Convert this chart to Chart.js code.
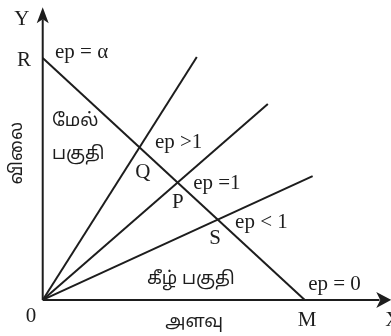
<!DOCTYPE html>
<html>
<head>
<meta charset="utf-8">
<script src="https://cdn.jsdelivr.net/npm/chart.js@4"></script>
<style>
  body { margin: 0; background: #fff; }
  #wrap { width: 391px; height: 336px; }
</style>
</head>
<body>
<div id="wrap"><canvas id="myChart"></canvas></div>
<script>
// demand line R -> M
const demandX = [0, 10];
const demandY = [10, 0];

// rays from the origin (ep > 1, ep = 1, ep < 1)
const rayNames = ['ep >1', 'ep =1', 'ep < 1'];
const rayEndX = [5.88, 8.59, 10.3];
const rayEndY = [10.04, 8.10, 5.12];

// axis lengths
const axisEndX = 13.3;
const axisEndY = 12.1;

const ink = '#1d1d1d';
const serif = '"Liberation Serif", "DejaVu Serif", serif';
const tamil = '"Noto Sans Tamil", "Lohit Tamil", "Noto Sans", sans-serif';
const lat = '21px ' + serif;
const tam = '18px ' + tamil;

// text labels: [text, x, y, align, font, rotate]
let labels = [
    ['Y', -0.8, 11.6, 'center', lat],
    ['R', -0.71, 9.92, 'center', lat],
    ['ep = \u03b1', 0.47, 10.25, 'left', lat],
    ['மேல்', 0.35, 7.36, 'left', tam],
    ['பகுதி', 0.35, 5.99, 'left', tam],
    ['விலை', -0.94, 6.07, 'center', tam, true],
    [rayNames[0], 4.28, 6.49, 'left', lat],
    ['Q', 3.82, 5.29, 'center', lat],
    [rayNames[1], 5.74, 4.83, 'left', lat],
    ['P', 5.16, 4.01, 'center', lat],
    [rayNames[2], 7.34, 3.22, 'left', lat],
    ['S', 6.58, 2.56, 'center', lat],
    ['கீழ் பகுதி', 3.98, 0.83, 'left', tam],
    ['ep = 0', 10.13, 0.62, 'left', lat],
    ['0', -0.45, -0.70, 'center', lat],
    ['M', 10.09, -0.83, 'center', lat],
    ['X', 13.07, -0.83, 'left', lat],
    ['அளவு', 5.78, -0.95, 'center', tam]
];

function line(xs, ys) {
    return {
        data: xs.map(function(x, i) { return { x: x, y: ys[i] }; }),
        showLine: true,
        borderColor: ink,
        borderWidth: 2,
        pointRadius: 0
    };
}

let sets = [
    line([0, axisEndX - 0.45], [0, 0]),
    line([0, 0], [0, axisEndY - 0.5]),
    line(demandX, demandY)
];
rayEndX.forEach(function(x, i) {
    sets.push(line([0, x], [0, rayEndY[i]]));
});

const extras = {
    id: 'extras',
    afterDatasetsDraw: function(chart) {
        let c = chart.ctx;
        let sx = chart.scales.x, sy = chart.scales.y;
        c.save();
        c.fillStyle = ink;

        // arrow heads
        let ox = sx.getPixelForValue(0), oy = sy.getPixelForValue(0);
        let tx = sx.getPixelForValue(axisEndX);
        c.beginPath();
        c.moveTo(tx, oy);
        c.lineTo(tx - 15, oy - 8);
        c.lineTo(tx - 11, oy);
        c.lineTo(tx - 15, oy + 8);
        c.closePath();
        c.fill();
        let ty = sy.getPixelForValue(axisEndY);
        c.beginPath();
        c.moveTo(ox, ty);
        c.lineTo(ox - 6, ty + 16);
        c.lineTo(ox, ty + 12);
        c.lineTo(ox + 6, ty + 16);
        c.closePath();
        c.fill();

        c.textBaseline = 'middle';
        labels.forEach(function(l) {
            let px = sx.getPixelForValue(l[1]);
            let py = sy.getPixelForValue(l[2]);
            c.font = l[4];
            c.textAlign = l[3];
            if (l[5]) {
                c.save();
                c.translate(px, py);
                c.rotate(-Math.PI / 2);
                c.fillText(l[0], 0, 0);
                c.restore();
            } else {
                c.fillText(l[0], px, py);
            }
        });
        c.restore();
    }
};

let ctx = document.getElementById('myChart').getContext('2d');
var myChart = new Chart(ctx, {
    type: 'scatter',
    data: { datasets: sets },
    options: {
        responsive: true,
        maintainAspectRatio: false,
        animation: false,
        layout: { padding: 0 },
        plugins: { legend: { display: false }, tooltip: { enabled: false } },
        scales: {
            x: { type: 'linear', display: false, min: -1.63, max: 13.29 },
            y: { type: 'linear', display: false, min: -1.49, max: 12.40 }
        }
    },
    plugins: [extras]
});
</script>
</body>
</html>
